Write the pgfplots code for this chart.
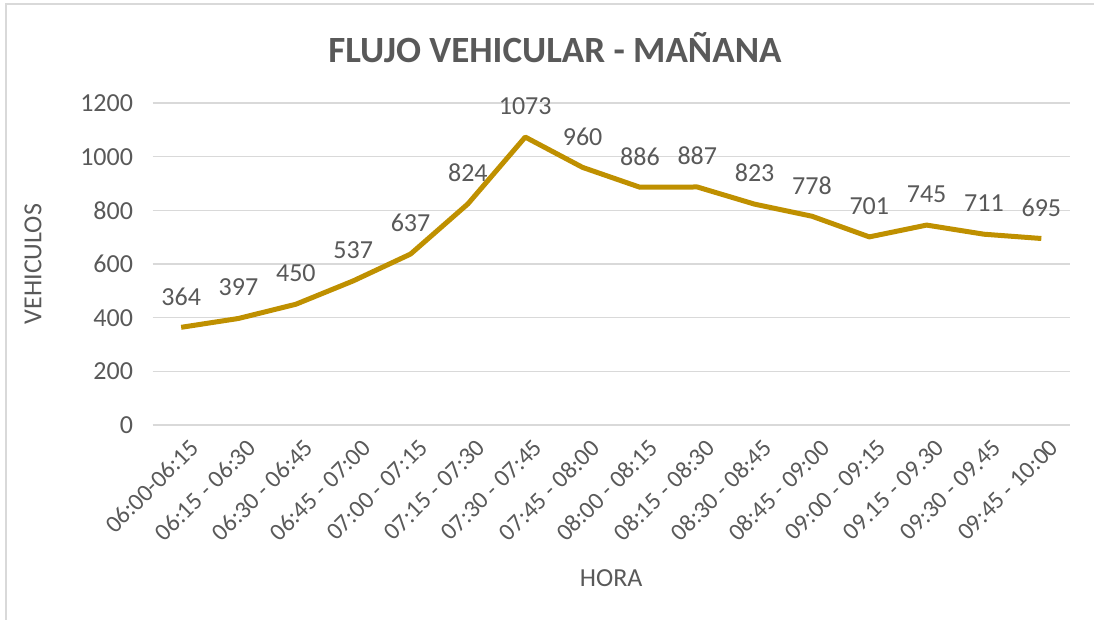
\documentclass[border=0pt]{standalone}
\usepackage{pgfplots}
\pgfplotsset{compat=1.18}
\usepackage{fontspec}
\setmainfont{Carlito}
\definecolor{txt}{HTML}{595959}
\definecolor{grd}{HTML}{D9D9D9}
\definecolor{gold}{HTML}{BF9000}
\begin{document}
\begin{tikzpicture}
\path[use as bounding box] (0pt,0pt) rectangle (1094pt,620pt);
\draw[grd, line width=1.2pt] (6pt,0pt) -- (6pt,616pt) -- (1094pt,616pt);
\node[text=txt, font=\fontsize{37}{44}\selectfont\bfseries] at (555pt,572pt) {FLUJO VEHICULAR - MAÑANA};
\begin{axis}[
  at={(152.5pt,195pt)}, anchor=south west,
  scale only axis, width=917.5pt, height=322pt,
  xmin=-0.5, xmax=15.5, ymin=0, ymax=1200,
  ytick={0,200,...,1200},
  xtick={0,...,15},
  xticklabels={06:00-06:15, 06:15 - 06:30, 06:30 - 06:45, 06:45 - 07:00, 07:00 - 07:15, 07:15 - 07:30, 07:30 - 07:45, 07:45 - 08:00, 08:00 - 08:15, 08:15 - 08:30, 08:30 - 08:45, 08:45 - 09:00, 09:00 - 09:15, 09.15 - 09.30, 09:30 - 09.45, 09:45 - 10:00},
  axis line style={draw=none},
  ymajorgrids, grid style={grd, line width=1.2pt},
  major tick length=0pt,
  /pgf/number format/assume math mode=true,
  /pgf/number format/1000 sep={},
  tick label style={text=txt, font=\fontsize{26}{30}\selectfont},
  yticklabel style={xshift=-16pt},
  xticklabel style={rotate=45, anchor=north east, inner sep=0pt, yshift=-14pt, xshift=-4pt, font=\fontsize{24.5}{28}\selectfont},
  xlabel={HORA}, ylabel={VEHICULOS},
  label style={text=txt, font=\fontsize{26}{30}\selectfont},
  xlabel style={at={(axis description cs:0.5,-0.475)}, anchor=center},
  ylabel style={at={(axis description cs:-0.1302,0.5)}, anchor=center},
  nodes near coords,
  nodes near coords style={anchor=center, yshift=31pt, text=txt, font=\fontsize{26}{30}\selectfont, /pgf/number format/1000 sep={}},
  clip=false,
]
\addplot[gold, line width=5pt, line join=round, mark=none] coordinates {
(0,364) (1,397) (2,450) (3,537) (4,637) (5,824) (6,1073) (7,960)
(8,886) (9,887) (10,823) (11,778) (12,701) (13,745) (14,711) (15,695)
};
\end{axis}
\end{tikzpicture}
\end{document}
